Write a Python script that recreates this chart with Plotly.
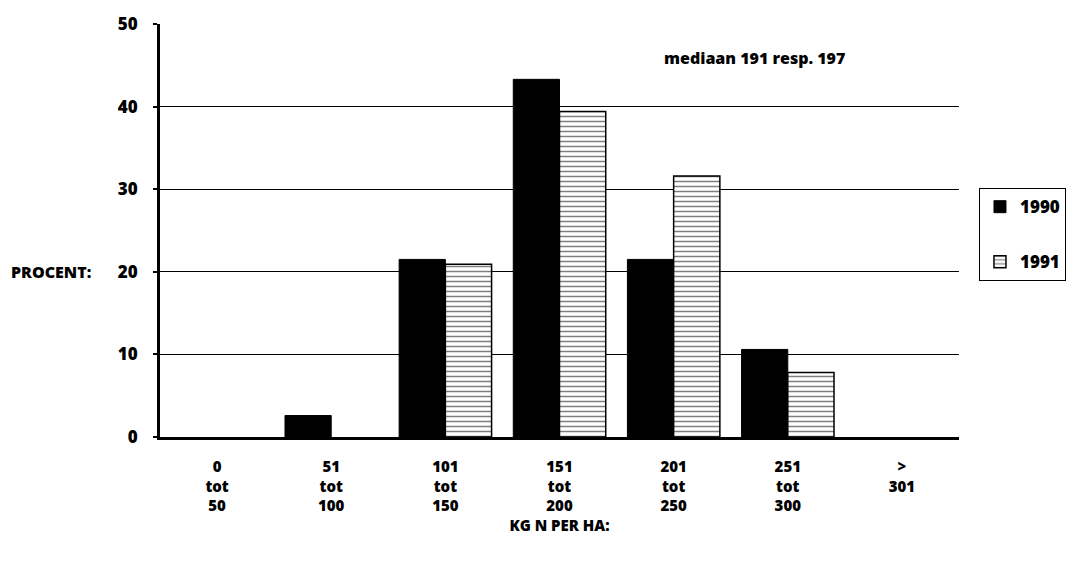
import plotly.graph_objects as go

categories = ["0<br>tot<br>50", "51<br>tot<br>100", "101<br>tot<br>150", "151<br>tot<br>200",
              "201<br>tot<br>250", "251<br>tot<br>300", "><br>301<br> "]
values_1990 = [0, 2.6, 21.5, 43.3, 21.5, 10.6, 0]
values_1991 = [0, 0, 20.9, 39.4, 31.6, 7.8, 0]

FONT = "Open Sans"
W = 800

def nz(vals):
    # zero-height bars are not drawn in the reference
    return [v if v != 0 else None for v in vals]

fig = go.Figure()
fig.add_trace(go.Bar(
    x=categories, y=nz(values_1990), name="1990", legendgroup="a",
    marker=dict(color="black", line=dict(color="black", width=1)),
))
fig.add_trace(go.Bar(
    x=categories, y=nz(values_1991), name="1991", legendgroup="b",
    marker=dict(color="white", line=dict(color="black", width=1.5),
                pattern=dict(shape="-", fgcolor="black", bgcolor="white", size=5, solidity=0.3)),
))

fig.update_layout(
    width=1078, height=562,
    paper_bgcolor="white", plot_bgcolor="white",
    margin=dict(l=160, r=118, t=19, b=125),
    barmode="group", bargap=0.19, bargroupgap=0,
    font=dict(family=FONT, size=14, color="black"),
    showlegend=True,
    legend=dict(x=1.025, y=0.49, xanchor="left", yanchor="middle",
                bordercolor="black", borderwidth=1, bgcolor="white",
                traceorder="grouped", tracegroupgap=30, itemwidth=30,
                font=dict(family=FONT, size=17, color="black", weight=W)),
    xaxis=dict(showline=True, linecolor="black", linewidth=3, showgrid=False,
               ticks="", ticklabelstandoff=14,
               tickfont=dict(family=FONT, size=15, weight=W),
               title=dict(text="KG N PER HA:", font=dict(family=FONT, size=15, weight=W), standoff=4)),
    yaxis=dict(range=[0, 50], dtick=10, showline=True, linecolor="black", linewidth=3,
               showgrid=True, gridcolor="black", gridwidth=1, ticks="outside", ticklen=4,
               tickwidth=2, tickcolor="black", ticklabelstandoff=12,
               tickfont=dict(family=FONT, size=17, weight=W), zeroline=False),
)

fig.add_annotation(text="PROCENT:", xref="paper", yref="paper", x=-0.084, y=0.40,
                   xanchor="right", yanchor="middle", showarrow=False,
                   font=dict(family=FONT, size=16, color="black", weight=W))
fig.add_annotation(text="mediaan 191 resp. 197", xref="paper", yref="y", x=0.86, y=45.9,
                   xanchor="right", yanchor="middle", showarrow=False,
                   font=dict(family=FONT, size=16, color="black", weight=W))

fig.write_html("out.html")
